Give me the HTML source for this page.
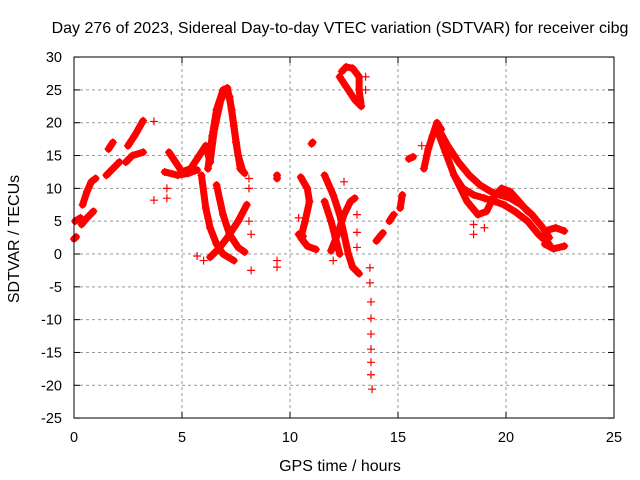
<!DOCTYPE html>
<html><head><meta charset="utf-8"><style>
body{margin:0;background:#fff}
svg{display:block;font-family:"Liberation Sans",sans-serif}
</style></head><body>
<svg id="chart" width="640" height="480">
<text x="340" y="33" font-size="16" text-anchor="middle">Day 276 of 2023, Sidereal Day-to-day VTEC variation (SDTVAR) for receiver cibg</text>
<text x="340" y="471" font-size="16" text-anchor="middle">GPS time / hours</text>
<text transform="translate(19,239) rotate(-90)" font-size="16" text-anchor="middle">SDTVAR / TECUs</text>
<g id="grid"></g><g id="marks"></g>
<rect x="74" y="57" width="540" height="361" fill="none" stroke="#000" stroke-width="1"/>
</svg>
<script>
const xTicks=[0,5,10,15,20,25];
const yTicks=[30,25,20,15,10,5,0,-5,-10,-15,-20,-25];
const tracks=[
[[0.0,2.3],[0.1,2.6]],
[[0.05,5.0],[0.3,5.5]],
[[0.35,4.5],[0.6,5.5],[0.9,6.5]],
[[0.4,7.5],[0.6,9.5],[0.8,11],[1.0,11.5]],
[[1.5,12],[1.8,13],[2.1,14]],
[[1.6,16],[1.8,17]],
[[2.4,14],[2.7,15],[3.2,15.5]],
[[2.5,16.5],[2.8,18],[3.2,20.3]],
[[4.4,15.5],[4.7,14],[5.0,12.5],[5.4,13],[5.8,15],[6.1,16.5],[6.3,14]],
[[4.2,12.5],[4.8,12],[5.3,12.3],[5.7,12.8]],
[[6.2,13],[6.4,18],[6.6,22],[6.9,25],[7.1,25.3],[7.3,22],[7.5,17],[7.7,13],[7.9,12.3]],
[[6.3,14],[6.5,19],[6.8,23.5],[7.0,24.8],[7.2,24],[7.4,19.5],[7.6,15],[7.8,12.8]],
[[5.9,12],[6.1,7],[6.3,4],[6.6,1.5],[6.9,0],[7.4,-1]],
[[6.6,10.5],[6.9,6],[7.2,3],[7.6,1],[7.9,0.3]],
[[6.3,-0.5],[6.7,0.8],[7.1,2.5],[7.6,5],[8.0,7.5]],
[[9.4,11.5],[9.4,12]],
[[10.4,3],[10.6,2.7]],
[[10.5,11.7],[10.8,10],[10.9,8],[10.7,5],[10.5,2.5],[10.8,1.2],[11.2,0.7]],
[[11.0,16.8],[11.05,17]],
[[11.6,8],[11.9,5],[12.1,2.5],[12.3,0]],
[[11.6,12],[12.0,9],[12.3,6],[12.5,3],[12.7,0],[12.9,-2],[13.2,-3]],
[[11.9,0.5],[12.2,3],[12.5,6],[12.8,8],[13.0,8.5]],
[[12.3,27],[12.6,25.5],[13.0,23.5],[13.3,22.5],[13.2,25],[13.2,27],[12.9,28.3],[12.6,28.5],[12.4,27.8]],
[[14.0,2],[14.3,3.2]],[[14.6,5],[14.8,6]],[[15.1,7],[15.2,9]],[[15.5,14.5],[15.7,14.8]],
[[16.2,13],[16.4,16],[16.6,18],[16.8,20],[17.0,19]],
[[16.8,19.5],[17.3,16.5],[17.8,14],[18.3,12],[18.8,10.5],[19.3,9.5],[19.7,9],[20.2,8.5],[20.7,7.5],[21.2,6],[21.7,4],[22.0,2.5]],
[[16.8,19],[17.2,15.5],[17.6,12],[18.0,10],[18.5,9],[19.0,8.5],[19.5,8],[19.9,7.5],[20.4,6.5],[21.0,5],[21.5,3],[22.0,1.5]],
[[17.6,12],[18.2,8],[18.7,6],[19.1,6.5],[19.4,8.5],[19.8,10],[20.2,9.5],[20.6,8],[21.0,6.5]],
[[21.8,3.5],[22.3,4],[22.7,3.5]],[[21.8,1.5],[22.2,0.8],[22.7,1.2]]
];
const singles=[[3.7,20.2],[3.7,8.2],[4.3,10],[4.3,8.5],[8.1,11.5],[8.1,10],[8.1,5],[8.2,3],[8.2,-2.5],[5.7,-0.3],[6.0,-1],[9.4,-1],[9.4,-2],[10.4,5.5],[12.0,-1],[12.5,11],[13.1,6],[13.1,3.3],[13.1,1],[13.5,27],[13.5,25],[13.7,-2.1],[13.7,-4.4],[13.75,-7.3],[13.75,-9.8],[13.75,-12.2],[13.75,-14.5],[13.75,-16.5],[13.75,-18.4],[13.8,-20.6],[18.5,4.5],[18.5,3],[19.0,4],[16.1,16.5]];
const X=v=>74+v*21.6, Y=v=>254-v*6.5636;
const NS='http://www.w3.org/2000/svg';
const grid=document.getElementById('grid'), marks=document.getElementById('marks');
function mk(t,a,p){const e=document.createElementNS(NS,t);for(const k in a)e.setAttribute(k,a[k]);p.appendChild(e);return e;}
xTicks.forEach(t=>{
 if(t>0&&t<25){const g=mk('line',{x1:X(t),x2:X(t),y1:57,y2:418,stroke:'#999','stroke-dasharray':'3,3'},grid);
 
 }
 mk('line',{x1:X(t),x2:X(t),y1:418,y2:412,stroke:'#000'},grid);
 mk('line',{x1:X(t),x2:X(t),y1:57,y2:63,stroke:'#000'},grid);
 const l=mk('text',{x:X(t),y:442,'font-size':14.5,'text-anchor':'middle'},grid);l.textContent=t;
 
 
});
yTicks.forEach(t=>{
 if(t<30&&t>-25){const g=mk('line',{x1:74,x2:614,y1:Y(t),y2:Y(t),stroke:'#999','stroke-dasharray':'3,3'},grid);
 
 }
 mk('line',{x1:74,x2:80,y1:Y(t),y2:Y(t),stroke:'#000'},grid);
 mk('line',{x1:608,x2:614,y1:Y(t),y2:Y(t),stroke:'#000'},grid);
 const l=mk('text',{x:62,y:Y(t)+5,'font-size':14.5,'text-anchor':'end'},grid);l.textContent=t;
 
 
});
function plus(x,y){const p=mk('path',{d:`M${X(x)-4},${Y(y)}h8M${X(x)},${Y(y)-4}v8`,stroke:'#f00','stroke-width':1.2,fill:'none'},marks);
 
 }
tracks.forEach(tr=>{
 const pl=mk('polyline',{points:tr.map(p=>X(p[0])+','+Y(p[1])).join(' '),fill:'none',stroke:'#f00','stroke-width':7,'stroke-linejoin':'round','stroke-linecap':'round'},marks);
 
 
 tr.forEach(p=>plus(p[0],p[1]));
});
singles.forEach(p=>plus(p[0],p[1]));
</script>
</body></html>
